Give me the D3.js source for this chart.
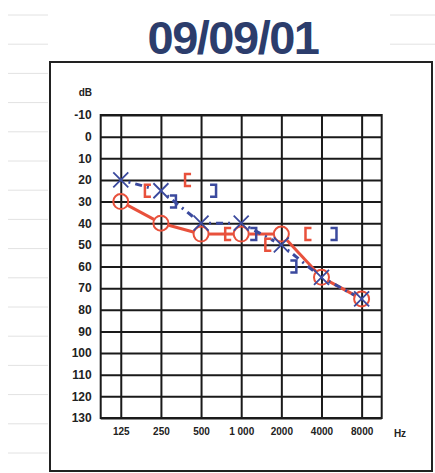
<!DOCTYPE html>
<html>
<head>
<meta charset="utf-8">
<script src="https://cdn.jsdelivr.net/npm/d3@7"></script>
<style>
  html, body { margin: 0; padding: 0; background: #fff; }
  svg { display: block; }
</style>
</head>
<body>
<div id="chart"></div>
<script>
// audiogram values
const title = '09/09/01';
const frequencies = [125, 250, 500, 1000, 2000, 4000, 8000];
const freqLabels = ['125', '250', '500', '1 000', '2000', '4000', '8000'];
const dbTicks = [-10, 0, 10, 20, 30, 40, 50, 60, 70, 80, 90, 100, 110, 120, 130];

const rightAir = [30, 40, 45, 45, 45, 65, 75];   // red O
const leftAir = [20, 25, 40, 40, 50, 65, 75];    // blue X
const boneFreqs = [250, 500, 1000, 2000, 4000];
const rightBone = [25, 20, 45, 50, 45];          // red [
const leftBone = [30, 25, 45, 60, 45];           // blue ]

const cfg = {
  width: 435,
  height: 473,
  grid: { left: 100.7, right: 381.7, top: 115, bottom: 418 },
  red: '#e8513c',
  blue: '#3b4a9e',
  ink: '#1a1a1a'
};

const svg = d3.select('#chart')
  .append('svg')
  .attr('width', cfg.width)
  .attr('height', cfg.height);

// faint notebook lines behind the sheet
const paperY = d3.range(15, 460, 29.2);
svg.selectAll('line.paper')
  .data(paperY)
  .enter()
  .append('line')
  .attr('x1', 8).attr('x2', 48)
  .attr('y1', d => d).attr('y2', d => d)
  .attr('stroke', '#e2e2e2')
  .attr('stroke-width', 1);
svg.selectAll('line.paperR')
  .data(paperY.slice(0, 2))
  .enter()
  .append('line')
  .attr('x1', 390).attr('x2', 435)
  .attr('y1', d => d).attr('y2', d => d)
  .attr('stroke', '#e2e2e2')
  .attr('stroke-width', 1);

// title
svg.append('text')
  .attr('x', 233)
  .attr('y', 54)
  .attr('text-anchor', 'middle')
  .attr('font-family', 'Liberation Sans, Arial, sans-serif')
  .attr('font-weight', 'bold')
  .attr('font-size', 47)
  .attr('letter-spacing', -1.5)
  .attr('fill', '#2c3d6c')
  .text(title);

// outer frame
svg.append('rect')
  .attr('x', 50).attr('y', 62)
  .attr('width', 382).attr('height', 409)
  .attr('fill', 'none')
  .attr('stroke', '#222')
  .attr('stroke-width', 2);

const x = d3.scaleLog().base(2)
  .domain([125 / Math.SQRT2, 8000 * Math.SQRT2])
  .range([cfg.grid.left, cfg.grid.right]);

const y = d3.scaleLinear()
  .domain([-10, 130])
  .range([cfg.grid.top, cfg.grid.bottom]);

const gw = cfg.grid.right - cfg.grid.left;
const gh = cfg.grid.bottom - cfg.grid.top;

// y axis with grid lines
const yAxis = svg.append('g')
  .attr('transform', `translate(${cfg.grid.left},0)`)
  .call(d3.axisLeft(y).tickValues(dbTicks).tickFormat(d => String(d))
    .tickSize(-gw).tickPadding(9));
yAxis.select('.domain').remove();
yAxis.selectAll('line').attr('stroke', cfg.ink).attr('stroke-width', 2);
yAxis.selectAll('text')
  .attr('font-family', 'Liberation Sans, Arial, sans-serif')
  .attr('font-weight', 'bold')
  .attr('font-size', 12)
  .attr('fill', '#222');

// x axis with grid lines
const xAxis = svg.append('g')
  .attr('transform', `translate(0,${cfg.grid.bottom})`)
  .call(d3.axisBottom(x).tickValues(frequencies)
    .tickFormat((d, i) => freqLabels[i])
    .tickSize(-gh).tickPadding(10));
xAxis.select('.domain').remove();
xAxis.selectAll('line').attr('stroke', cfg.ink).attr('stroke-width', 2);
xAxis.selectAll('text')
  .attr('font-family', 'Liberation Sans, Arial, sans-serif')
  .attr('font-weight', 'bold')
  .attr('font-size', 10)
  .attr('fill', '#222');

// grid border
svg.append('rect')
  .attr('x', cfg.grid.left).attr('y', cfg.grid.top)
  .attr('width', gw).attr('height', gh)
  .attr('fill', 'none')
  .attr('stroke', cfg.ink)
  .attr('stroke-width', 2);

// unit labels
svg.append('text')
  .attr('x', 92).attr('y', 96)
  .attr('text-anchor', 'end')
  .attr('font-family', 'Liberation Sans, Arial, sans-serif')
  .attr('font-weight', 'bold')
  .attr('font-size', 10)
  .attr('fill', '#222')
  .text('dB');
svg.append('text')
  .attr('x', 400).attr('y', 436.5)
  .attr('text-anchor', 'middle')
  .attr('font-family', 'Liberation Sans, Arial, sans-serif')
  .attr('font-weight', 'bold')
  .attr('font-size', 10)
  .attr('fill', '#222')
  .text('Hz');

// connecting lines, trimmed so they stop at the symbols
function segments(values, gap) {
  const pts = frequencies.map((f, i) => [x(f), y(values[i])]);
  const out = [];
  for (let i = 0; i < pts.length - 1; i++) {
    const [x1, y1] = pts[i], [x2, y2] = pts[i + 1];
    const len = Math.hypot(x2 - x1, y2 - y1);
    const ux = (x2 - x1) / len, uy = (y2 - y1) / len;
    out.push([x1 + ux * gap, y1 + uy * gap, x2 - ux * gap, y2 - uy * gap]);
  }
  return out;
}

svg.selectAll('line.right')
  .data(segments(rightAir, 8))
  .enter()
  .append('line')
  .attr('x1', d => d[0]).attr('y1', d => d[1])
  .attr('x2', d => d[2]).attr('y2', d => d[3])
  .attr('stroke', cfg.red)
  .attr('stroke-width', 3);

svg.selectAll('line.left')
  .data(segments(leftAir, 8))
  .enter()
  .append('line')
  .attr('x1', d => d[0]).attr('y1', d => d[1])
  .attr('x2', d => d[2]).attr('y2', d => d[3])
  .attr('stroke', cfg.blue)
  .attr('stroke-width', 3)
  .attr('stroke-dasharray', '2,5,7,5');

// bone conduction brackets
svg.selectAll('path.rbone')
  .data(boneFreqs.map((f, i) => [f, rightBone[i]]))
  .enter()
  .append('path')
  .attr('d', d => {
    const cx = x(d[0]) - 13, cy = y(d[1]);
    return `M${cx + 3},${cy - 6}H${cx - 3}V${cy + 6}H${cx + 3}`;
  })
  .attr('fill', 'none')
  .attr('stroke', cfg.red)
  .attr('stroke-width', 2.5);

svg.selectAll('path.lbone')
  .data(boneFreqs.map((f, i) => [f, leftBone[i]]))
  .enter()
  .append('path')
  .attr('d', d => {
    const cx = x(d[0]) + 12, cy = y(d[1]);
    return `M${cx - 3},${cy - 6}H${cx + 3}V${cy + 6}H${cx - 3}`;
  })
  .attr('fill', 'none')
  .attr('stroke', cfg.blue)
  .attr('stroke-width', 2.5);

// right ear air conduction: circles
svg.selectAll('circle.rair')
  .data(rightAir)
  .enter()
  .append('circle')
  .attr('cx', (d, i) => x(frequencies[i]))
  .attr('cy', d => y(d))
  .attr('r', 7.5)
  .attr('fill', 'none')
  .attr('stroke', cfg.red)
  .attr('stroke-width', 2);

// left ear air conduction: crosses
svg.selectAll('path.lair')
  .data(leftAir)
  .enter()
  .append('path')
  .attr('d', (d, i) => {
    const cx = x(frequencies[i]), cy = y(d), s = 7.5;
    return `M${cx - s},${cy - s}L${cx + s},${cy + s}M${cx + s},${cy - s}L${cx - s},${cy + s}`;
  })
  .attr('fill', 'none')
  .attr('stroke', cfg.blue)
  .attr('stroke-width', 1.8);
</script>
</body>
</html>
